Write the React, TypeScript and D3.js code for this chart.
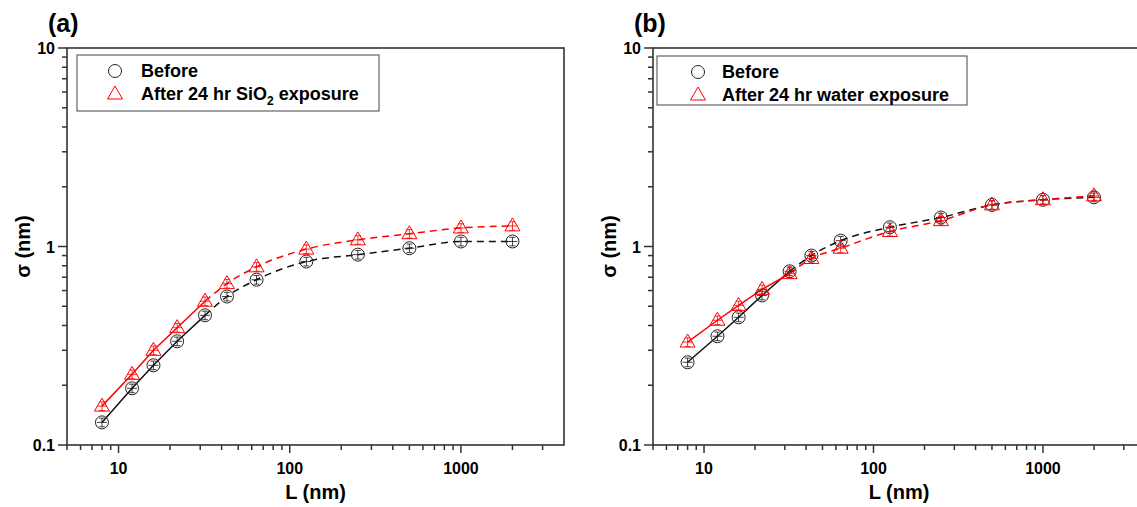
import React from "react";
import * as d3 from "d3";

// L (nm) sampling lengths, shared by both panels
const L_VALUES = [8, 12, 16, 22, 32, 43, 64, 125, 250, 500, 1000, 2000];

// panel (a): SiO2 exposure
const A_BEFORE = [0.13, 0.193, 0.252, 0.333, 0.45, 0.56, 0.68, 0.84, 0.91, 0.98, 1.06, 1.06];
const A_AFTER = [0.157, 0.227, 0.3, 0.39, 0.53, 0.65, 0.79, 0.97, 1.08, 1.16, 1.24, 1.27];

// panel (b): water exposure
const B_BEFORE = [0.261, 0.353, 0.44, 0.567, 0.75, 0.9, 1.07, 1.25, 1.4, 1.62, 1.72, 1.77];
const B_AFTER = [0.33, 0.425, 0.505, 0.608, 0.73, 0.87, 0.98, 1.19, 1.35, 1.62, 1.72, 1.8];

const X_MAJOR = [10, 100, 1000];
const X_MINOR = [5, 6, 7, 8, 9, 20, 30, 40, 50, 60, 70, 80, 90, 200, 300, 400, 500, 600, 700, 800, 900, 2000, 3000];
const Y_MAJOR = [0.1, 1, 10];
const Y_MINOR = [0.2, 0.3, 0.4, 0.5, 0.6, 0.7, 0.8, 0.9, 2, 3, 4, 5, 6, 7, 8, 9];

const ERR = 0.05; // relative error bar half-height
const FONT = "'Liberation Sans', Arial, sans-serif";
const SOLID_END = 4; // index where fit turns dashed

const Circle = ({ x, y }) => (
  <circle cx={x} cy={y} r={6.5} fill="none" stroke="#222" strokeWidth={1} />
);

const Tri = ({ x, y }) => (
  <path
    d={`M${x},${y - 8} L${x + 7.5},${y + 5} L${x - 7.5},${y + 5} Z`}
    fill="none"
    stroke="#f00"
    strokeWidth={1}
  />
);

function Panel({ left, right, top, bottom, tag, legend, legendText, before, after }) {
  const x = d3.scaleLog().domain([5, 4000]).range([left, right]);
  const y = d3.scaleLog().domain([0.1, 10]).range([bottom, top]);

  const solid = d3
    .line()
    .x((d) => x(d[0]))
    .y((d) => y(d[1]));
  const fit = d3
    .line()
    .x((d) => x(d[0]))
    .y((d) => y(d[1]))
    .curve(d3.curveMonotoneX);

  const series = [
    { vals: before, color: "#111", Marker: Circle },
    { vals: after, color: "#f00", Marker: Tri },
  ];

  return (
    <g fontFamily={FONT} fontWeight="bold">
      <text x={left - 19} y={top - 16} fontSize={25}>{tag}</text>

      {series.map(({ vals, color }, si) => {
        const pts = L_VALUES.map((l, i) => [l, vals[i]]);
        return (
          <g key={si}>
            <path d={solid(pts.slice(0, SOLID_END + 1))} fill="none" stroke={color} strokeWidth={1.5} />
            <path
              d={fit(pts.slice(SOLID_END))}
              fill="none"
              stroke={color}
              strokeWidth={1.5}
              strokeDasharray="7,5"
            />
          </g>
        );
      })}

      {series.map(({ vals, color, Marker }, si) => (
        <g key={"m" + si}>
          {L_VALUES.map((l, i) => {
            const cx = x(l);
            const cy = y(vals[i]);
            const y0 = y(vals[i] * (1 - ERR));
            const y1 = y(vals[i] * (1 + ERR));
            return (
              <g key={i}>
                <line x1={cx} x2={cx} y1={y0} y2={y1} stroke={color} strokeWidth={0.8} />
                <line x1={cx - 3} x2={cx + 3} y1={y0} y2={y0} stroke={color} strokeWidth={0.8} />
                <line x1={cx - 3} x2={cx + 3} y1={y1} y2={y1} stroke={color} strokeWidth={0.8} />
                <line x1={cx - 5} x2={cx + 5} y1={cy} y2={cy} stroke={color} strokeWidth={0.8} />
                <Marker x={cx} y={cy} />
              </g>
            );
          })}
        </g>
      ))}

      {/* frame */}
      <rect x={left} y={top} width={right - left} height={bottom - top} fill="none" stroke="#333" strokeWidth={1.6} />

      {/* y ticks */}
      {Y_MAJOR.map((v) => (
        <g key={v}>
          <line x1={left - 9} x2={left} y1={y(v)} y2={y(v)} stroke="#333" strokeWidth={1.5} />
          <text x={left - 12} y={y(v) + 6} fontSize={16} textAnchor="end">{v}</text>
        </g>
      ))}
      {Y_MINOR.map((v) => (
        <line key={v} x1={left - 5} x2={left} y1={y(v)} y2={y(v)} stroke="#333" strokeWidth={1.5} />
      ))}

      {/* x ticks */}
      {X_MAJOR.map((v) => (
        <g key={v}>
          <line x1={x(v)} x2={x(v)} y1={bottom} y2={bottom + 8} stroke="#333" strokeWidth={1.5} />
          <text x={x(v)} y={bottom + 29} fontSize={16} textAnchor="middle">{v}</text>
        </g>
      ))}
      {X_MINOR.map((v) => (
        <line key={v} x1={x(v)} x2={x(v)} y1={bottom} y2={bottom + 5} stroke="#333" strokeWidth={1.5} />
      ))}

      <text x={(left + right) / 2} y={bottom + 54} fontSize={20} textAnchor="middle">L (nm)</text>
      <text
        transform={`translate(${left - 37},${(top + bottom) / 2}) rotate(-90)`}
        fontSize={20}
        textAnchor="middle"
      >
        σ (nm)
      </text>

      {/* legend */}
      <rect x={legend.x0} y={legend.y0} width={legend.x1 - legend.x0} height={legend.y1 - legend.y0} fill="#fff" stroke="#444" strokeWidth={1} />
      <Circle x={legend.mx} y={legend.y0 + 16} />
      <Tri x={legend.mx} y={legend.y0 + 39} />
      <text x={legend.tx} y={legend.y0 + 22} fontSize={18}>Before</text>
      <text x={legend.tx} y={legend.y0 + 45} fontSize={18}>{legendText}</text>
    </g>
  );
}

export default function App() {
  return (
    <svg width={1137} height={507} style={{ position: "absolute", left: 0, top: 0, background: "#fff" }}>
      <Panel
        left={67}
        right={564}
        top={48}
        bottom={445}
        tag="(a)"
        legend={{ x0: 77, x1: 379, y0: 55, y1: 111, mx: 115, tx: 141 }}
        legendText={
          <>
            After 24 hr SiO
            <tspan fontSize={12} dy={5}>2</tspan>
            <tspan dy={-5}> exposure</tspan>
          </>
        }
        before={A_BEFORE}
        after={A_AFTER}
      />
      <Panel
        left={653}
        right={1145}
        top={48}
        bottom={445}
        tag="(b)"
        legend={{ x0: 657, x1: 967, y0: 56, y1: 105, mx: 698, tx: 722 }}
        legendText="After 24 hr water exposure"
        before={B_BEFORE}
        after={B_AFTER}
      />
    </svg>
  );
}
